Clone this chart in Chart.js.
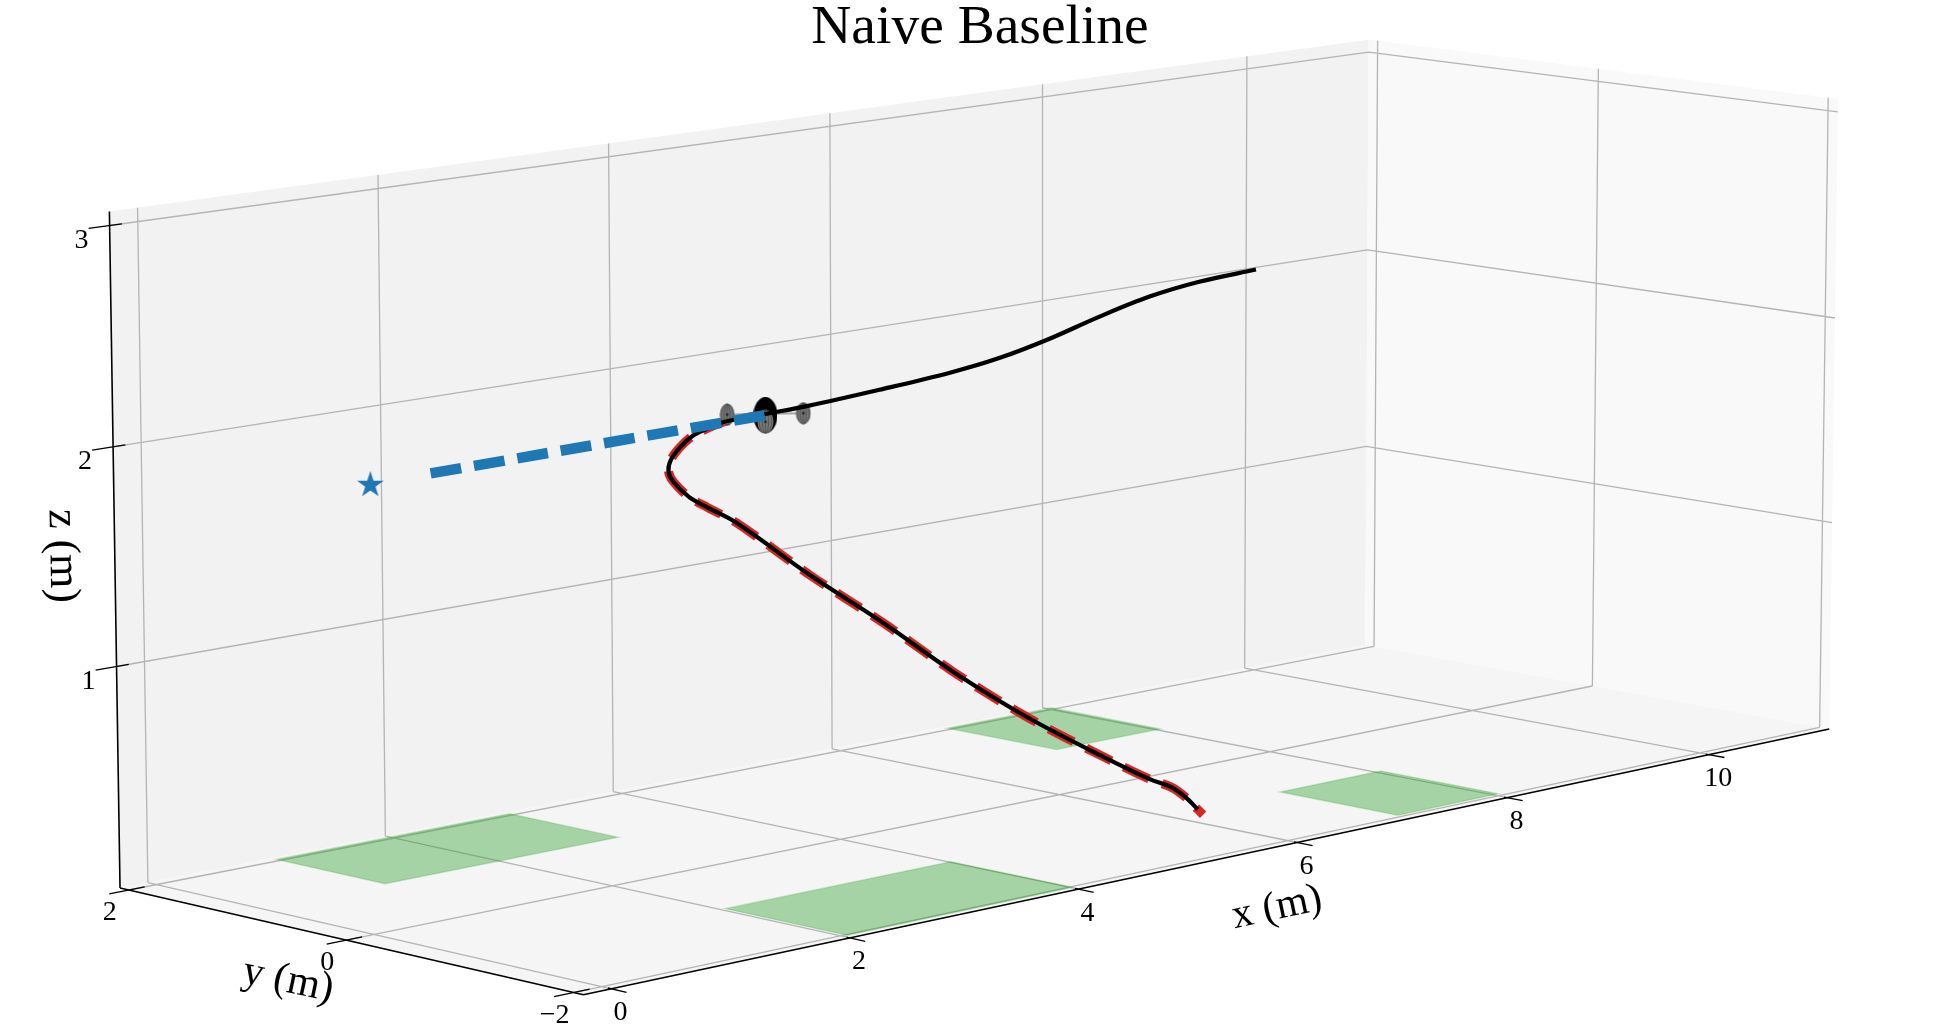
<!DOCTYPE html>
<html>
<head>
<meta charset="utf-8">
<title>Naive Baseline</title>
<script src="https://cdn.jsdelivr.net/npm/chart.js"></script>
<style>
  html, body { margin: 0; padding: 0; background: #fff; }
  canvas { display: block; }
</style>
</head>
<body>
<canvas id="mycanvas" width="1959" height="1033"></canvas>
<script>
// axis ticks and pane limits, metres
var x_ticks = [0, 2, 4, 6, 8, 10];
var y_ticks = [-2, 0, 2];
var z_ticks = [1, 2, 3];
var x_limits = [-0.229, 11.229];
var y_limits = [-2.083, 2.083];
var z_limits = [-0.016, 3.0625];

// reference path (red dashes)
var ref_x = [5.43,5.38,5.27,5.14,4.94,4.52,3.85,3.19,2.57,1.96,1.33,1.09,0.94,0.81,0.77,0.79,0.87,0.97,1.08,1.23,1.39,1.58];
var ref_z = [0.144,0.174,0.242,0.302,0.361,0.508,0.755,1.030,1.316,1.582,1.877,1.966,2.025,2.104,2.153,2.202,2.252,2.291,2.311,2.330,2.332,2.335];

// flown path (black)
var track_x = [5.38,5.27,5.14,4.94,4.52,3.85,3.19,2.57,1.96,1.33,1.09,0.94,0.81,0.77,0.79,0.87,0.97,1.08,1.23,1.39,1.58,1.93,2.55,3.16,3.59,4.03,4.48,4.93,5.38,5.90];
var track_z = [0.174,0.242,0.302,0.361,0.508,0.755,1.030,1.316,1.582,1.877,1.966,2.025,2.104,2.153,2.202,2.252,2.291,2.311,2.330,2.332,2.335,2.340,2.360,2.385,2.415,2.465,2.530,2.585,2.617,2.632];
var path_y = -1.8;

// blue dashed line to the goal, and the goal star
var goal_line_x = [1.02, 1.58];
var goal_line_y = [0.56, -1.8];
var goal_line_z = [1.907, 2.330];
var goal = [0.92, 1.0, 1.828];

// quadrotor: rotors and hub
var rotor_x = [1.26, 1.90];
var rotor_z = [2.360, 2.311];
var hub_x = 1.58;
var hub_z = 2.330;
var hub_disc_z = 2.301;

// landing pads on the floor
var pad_x0 = [0.75, 1.75, 6.72, 6.76];
var pad_x1 = [2.74, 3.71, 7.71, 7.72];
var pad_y0 = [0.72, -2.31, 0.72, -2.25];
var pad_y1 = [1.72, -1.26, 1.72, -1.235];
var pad_z = 0.05;

// camera matrix of the 3d view
var cam = [
  [125.7167, -107.0301, -3.9514, 374.2395],
  [-14.71665, -15.02024, -225.161, 931.0505],
  [0.01080478, 0.01121570, -0.0038295, 1.000174]
];

function project(x, y, z) {
  var w = cam[2][0] * x + cam[2][1] * y + cam[2][2] * z + cam[2][3];
  return {
    x: (cam[0][0] * x + cam[0][1] * y + cam[0][2] * z + cam[0][3]) / w,
    y: (cam[1][0] * x + cam[1][1] * y + cam[1][2] * z + cam[1][3]) / w
  };
}

var gap = { x: NaN, y: NaN };

function segment(a, b) {
  return [project(a[0], a[1], a[2]), project(b[0], b[1], b[2]), gap];
}

function polygon(list) {
  var pts = list.map(function (p) { return project(p[0], p[1], p[2]); });
  pts.push(pts[0]);
  return pts;
}

function flat(arr) {
  return arr.reduce(function (all, part) { return all.concat(part); }, []);
}

var xl = x_limits[0], xh = x_limits[1];
var yl = y_limits[0], yh = y_limits[1];
var zl = z_limits[0], zh = z_limits[1];

// gridlines on the three panes
var grid = flat([].concat(
  x_ticks.map(function (t) { return segment([t, yh, zl], [t, yh, zh]); }),
  x_ticks.map(function (t) { return segment([t, yl, zl], [t, yh, zl]); }),
  y_ticks.map(function (t) { return segment([xh, t, zl], [xh, t, zh]); }),
  y_ticks.map(function (t) { return segment([xl, t, zl], [xh, t, zl]); }),
  z_ticks.map(function (t) { return segment([xl, yh, t], [xh, yh, t]); }),
  z_ticks.map(function (t) { return segment([xh, yl, t], [xh, yh, t]); })
));

// black spines and tick marks
var spines = flat([
  segment([xl, yh, zl], [xl, yh, zh]),
  segment([xl, yh, zl], [xl, yl, zl]),
  segment([xl, yl, zl], [xh, yl, zl])
]);
var tick_marks = flat([].concat(
  x_ticks.map(function (t) { return segment([t, yl + 0.03, zl], [t, yl - 0.13, zl]); }),
  y_ticks.map(function (t) { return segment([xl - 0.16, t, zl], [xl + 0.13, t, zl]); }),
  z_ticks.map(function (t) { return segment([xl - 0.17, yh, t], [xl + 0.1, yh, t]); })
));

function areaSet(list, colour) {
  return {
    data: polygon(list), fill: 'shape', backgroundColor: colour,
    borderColor: 'rgba(0,0,0,0)', borderWidth: 0, pointRadius: 0
  };
}

function lineSet(points, colour, width, extra) {
  var set = {
    data: points, borderColor: colour, borderWidth: width,
    pointRadius: 0, fill: false, borderCapStyle: 'butt', borderJoinStyle: 'round'
  };
  for (var k in extra) set[k] = extra[k];
  return set;
}

// rotor discs and star as canvas point styles
function makeMarker(w, h, draw) {
  var c = document.createElement('canvas');
  c.width = w; c.height = h;
  draw(c.getContext('2d'), w / 2, h / 2);
  return c;
}

function drawRotor(ctx, cx, cy) {
  ctx.fillStyle = '#777';
  ctx.beginPath();
  ctx.ellipse(cx, cy, cx - 0.5, cy - 0.5, 0, 0, Math.PI * 2);
  ctx.fill();
  ctx.strokeStyle = 'rgba(50,50,50,0.45)';
  ctx.lineWidth = 0.6;
  for (var i = -2; i <= 2; i++) {
    ctx.beginPath();
    ctx.ellipse(cx, cy, Math.abs(i) * (cx - 1) / 2.4, cy - 1, 0, 0, Math.PI * 2);
    ctx.stroke();
  }
  ctx.fillStyle = '#222';
  ctx.fillRect(cx - 1.2, cy - 1.2, 2.4, 2.4);
}

var rotor_img = makeMarker(16, 23, drawRotor);
var hub_disc_img = makeMarker(17, 25, drawRotor);
var hub_img = makeMarker(24, 36, function (ctx, cx, cy) {
  ctx.fillStyle = '#000';
  ctx.beginPath();
  ctx.ellipse(cx, cy, cx, cy, 0, 0, Math.PI * 2);
  ctx.fill();
});
var star_img = makeMarker(28, 28, function (ctx, cx, cy) {
  ctx.fillStyle = '#1f77b4';
  ctx.beginPath();
  for (var i = 0; i < 10; i++) {
    var r = i % 2 ? 5.4 : 14;
    var a = -Math.PI / 2 + i * Math.PI / 5;
    ctx[i ? 'lineTo' : 'moveTo'](cx + r * Math.cos(a), cy + 1 + r * Math.sin(a));
  }
  ctx.closePath();
  ctx.fill();
});

function markerSet(points, img) {
  return {
    data: points, showLine: false, pointStyle: img,
    pointRadius: 14, pointBorderWidth: 0, fill: false
  };
}

var rotor_points = rotor_x.map(function (v, i) { return project(v, path_y, rotor_z[i]); });

var datasets = [
  areaSet([[xl, yh, zl], [xh, yh, zl], [xh, yh, zh], [xl, yh, zh]], '#f2f2f2'),
  areaSet([[xh, yl, zl], [xh, yh, zl], [xh, yh, zh], [xh, yl, zh]], '#f9f9f9'),
  areaSet([[xl, yl, zl], [xh, yl, zl], [xh, yh, zl], [xl, yh, zl]], '#f5f5f5'),
  lineSet(grid, '#b4b4b4', 1.3),
  lineSet(spines, '#000', 1.6),
  lineSet(tick_marks, '#000', 1.3)
];

pad_x0.forEach(function (x0, i) {
  var x1 = pad_x1[i], y0 = pad_y0[i], y1 = pad_y1[i];
  datasets.push({
    data: polygon([[x0, y0, pad_z], [x1, y0, pad_z], [x1, y1, pad_z], [x0, y1, pad_z]]),
    fill: 'shape', backgroundColor: 'rgba(44,160,44,0.4)',
    borderColor: 'rgba(44,160,44,0.22)', borderWidth: 1.5, pointRadius: 0
  });
});

datasets.push(lineSet(ref_x.map(function (v, i) { return project(v, path_y, ref_z[i]); }), '#d62728', 9,
  { borderDash: [28, 14], borderDashOffset: 18, tension: 0.35 }));
datasets.push(lineSet(rotor_points.concat([]), '#a8a8a8', 2));
datasets.push(markerSet([project(hub_x, path_y, hub_z)], hub_img));
datasets.push(markerSet([project(hub_x, path_y, hub_disc_z)], hub_disc_img));
datasets.push(markerSet(rotor_points, rotor_img));
datasets.push(lineSet(track_x.map(function (v, i) { return project(v, path_y, track_z[i]); }), '#000', 4.2,
  { tension: 0.35 }));
datasets.push(lineSet(goal_line_x.map(function (v, i) { return project(v, goal_line_y[i], goal_line_z[i]); }), '#1f77b4', 10.5,
  { borderDash: [31, 13] }));
datasets.push(markerSet([project(goal[0], goal[1], goal[2])], star_img));

// first dataset is the back layer
datasets.forEach(function (d, i) { d.order = datasets.length - i; });

var axis_text = {
  id: 'axisText',
  afterDatasetsDraw: function (chart) {
    var ctx = chart.ctx, sx = chart.scales.x, sy = chart.scales.y;

    function label(px, py, txt, font, angle) {
      ctx.save();
      ctx.translate(sx.getPixelForValue(px), sy.getPixelForValue(py));
      ctx.rotate((angle || 0) * Math.PI / 180);
      ctx.font = font;
      ctx.fillStyle = '#000';
      ctx.textAlign = 'center';
      ctx.textBaseline = 'middle';
      ctx.fillText(txt, 0, 0);
      ctx.restore();
    }

    var tick_font = '28px "Liberation Serif"';
    x_ticks.forEach(function (t) {
      var p = project(t, yl, zl);
      label(p.x + 9, p.y + 24, String(t), tick_font);
    });
    y_ticks.forEach(function (t) {
      var p = project(xl, t, zl);
      label(p.x - 19, p.y + 23, String(t).replace('-', '\u2212'), tick_font);
    });
    z_ticks.forEach(function (t) {
      var p = project(xl, yh, t);
      label(p.x - 28, p.y + 15, String(t), tick_font);
    });
    label(1277, 908, 'x (m)', '41.5px "Liberation Serif"', -12);
    label(288, 981, 'y (m)', '42px "Liberation Serif"', 12);
    label(62, 556, 'z (m)', '44px "Liberation Serif"', 89);
    label(980, 28, 'Naive Baseline', '55.5px "Liberation Serif"');
  }
};

var chart = new Chart(document.getElementById('mycanvas'), {
  type: 'line',
  data: { datasets: datasets },
  options: {
    responsive: false,
    animation: false,
    devicePixelRatio: 1,
    events: [],
    layout: { padding: 0, autoPadding: false },
    plugins: { legend: { display: false }, tooltip: { enabled: false } },
    scales: {
      x: { type: 'linear', display: false, min: 0, max: 1959 },
      y: { type: 'linear', display: false, min: 0, max: 1033, reverse: true }
    }
  },
  plugins: [axis_text]
});
</script>
</body>
</html>
